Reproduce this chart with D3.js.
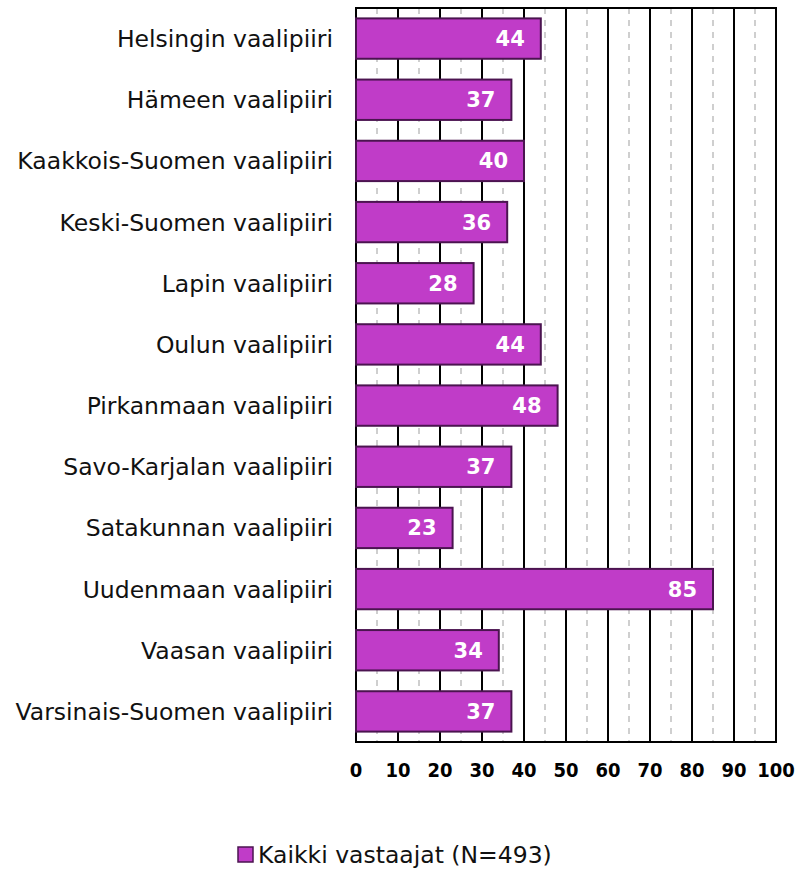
<!DOCTYPE html>
<html>
<head>
<meta charset="utf-8">
<script src="https://cdn.jsdelivr.net/npm/d3@7"></script>
<style>
  body { margin: 0; background: #fff; }
  svg { display: block; font-family: "DejaVu Sans", sans-serif; }
</style>
</head>
<body>
<svg id="chart"></svg>
<script>
(function(){
  const districts = ['Helsingin vaalipiiri', 'Hämeen vaalipiiri', 'Kaakkois-Suomen vaalipiiri',
    'Keski-Suomen vaalipiiri', 'Lapin vaalipiiri', 'Oulun vaalipiiri', 'Pirkanmaan vaalipiiri',
    'Savo-Karjalan vaalipiiri', 'Satakunnan vaalipiiri', 'Uudenmaan vaalipiiri',
    'Vaasan vaalipiiri', 'Varsinais-Suomen vaalipiiri'];
  const counts = [44, 37, 40, 36, 28, 44, 48, 37, 23, 85, 34, 37];
  const majorTicks = [0, 10, 20, 30, 40, 50, 60, 70, 80, 90, 100];
  const minorTicks = [5, 15, 25, 35, 45, 55, 65, 75, 85, 95];
  const seriesName = 'Kaikki vastaajat (N=493)';

  const width = 796, height = 870;
  const margin = {top: 8, right: 20, bottom: 128, left: 356};

  let svg = d3.select('#chart').attr('width', width).attr('height', height);

  let x = d3.scaleLinear().domain([0, 100]).range([margin.left, width - margin.right]);
  let y = d3.scaleBand().domain(districts).range([margin.top, height - margin.bottom]).paddingInner(0.34).paddingOuter(0.17);

  let grid = svg.append('g');
  grid.selectAll('line.minor')
    .data(minorTicks)
    .enter().append('line')
      .attr('x1', d => x(d)).attr('x2', d => x(d))
      .attr('y1', margin.top).attr('y2', height - margin.bottom)
      .attr('stroke', '#c0c0c0').attr('stroke-width', 1.5)
      .attr('stroke-dasharray', '6,6');
  grid.selectAll('line.major')
    .data(majorTicks)
    .enter().append('line')
      .attr('x1', d => x(d)).attr('x2', d => x(d))
      .attr('y1', margin.top).attr('y2', height - margin.bottom)
      .attr('stroke', '#000').attr('stroke-width', 2);
  grid.append('line')
    .attr('x1', x(0) - 1).attr('x2', x(100) + 1)
    .attr('y1', margin.top).attr('y2', margin.top)
    .attr('stroke', '#000').attr('stroke-width', 2);
  grid.append('line')
    .attr('x1', x(0) - 1).attr('x2', x(100) + 1)
    .attr('y1', height - margin.bottom).attr('y2', height - margin.bottom)
    .attr('stroke', '#000').attr('stroke-width', 2);

  let bars = svg.append('g').selectAll('g')
    .data(districts.map((d, i) => ({name: d, value: counts[i]})))
    .enter().append('g');

  bars.append('rect')
    .attr('x', x(0))
    .attr('y', d => y(d.name))
    .attr('width', d => x(d.value) - x(0))
    .attr('height', y.bandwidth())
    .attr('fill', '#c03cc8')
    .attr('stroke', '#4b1450')
    .attr('stroke-width', 2);

  bars.append('text')
    .attr('x', d => x(d.value) - 16)
    .attr('y', d => y(d.name) + y.bandwidth() / 2)
    .attr('dy', '0.36em')
    .attr('text-anchor', 'end')
    .attr('fill', '#fff')
    .attr('font-weight', 'bold')
    .attr('font-size', 21)
    .text(d => d.value);

  svg.append('g').selectAll('text')
    .data(districts)
    .enter().append('text')
      .attr('x', margin.left - 23)
      .attr('y', d => y(d) + y.bandwidth() / 2)
      .attr('dy', '0.36em')
      .attr('text-anchor', 'end')
      .attr('font-size', 23.5)
      .attr('fill', '#111')
      .text(d => d);

  // tick labels are narrow and tall in the original
  svg.append('g').selectAll('text')
    .data(majorTicks)
    .enter().append('text')
      .attr('x', d => x(d))
      .attr('y', height - margin.bottom + 28)
      .attr('dy', '0.36em')
      .attr('text-anchor', 'middle')
      .attr('font-family', '"DejaVu Sans Condensed", "DejaVu Sans", sans-serif')
      .attr('font-weight', 'bold')
      .attr('font-size', 20)
      .text(d => d);

  let legend = svg.append('g').attr('transform', 'translate(238, 847)');
  legend.append('rect')
    .attr('width', 15).attr('height', 15)
    .attr('fill', '#c03cc8').attr('stroke', '#4b1450').attr('stroke-width', 1.5);
  legend.append('text')
    .attr('x', 20).attr('y', 8).attr('dy', '0.36em')
    .attr('font-size', 23.5).attr('fill', '#111')
    .text(seriesName);
})();
</script>
</body>
</html>
